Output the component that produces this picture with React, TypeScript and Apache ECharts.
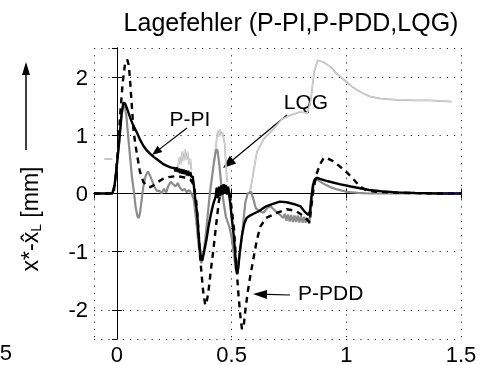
import React, { useEffect, useRef } from 'react';
import * as echarts from 'echarts';

const titleText = 'Lagefehler (P-PI,P-PDD,LQG)';
const xRange = [-0.1, 1.5];
const yRange = [-2.5, 2.5];

const pPI: any[] = [
  [-0.1, 0], [-0.02, 0], [-0.01, 0.15], [0, 0.5], [0.01, 0.9], [0.02, 1.35], [0.028, 1.56], [0.035, 1.55],
  [0.045, 1.45], [0.058, 1.3], [0.07, 1.18], [0.088, 1.04], [0.1, 0.93], [0.115, 0.82], [0.13, 0.74],
  [0.145, 0.68], [0.16, 0.63], [0.18, 0.57], [0.2, 0.51], [0.22, 0.47], [0.24, 0.44],
  [0.25, 0.44], [0.255, 0.38], [0.26, 0.45], [0.265, 0.37], [0.27, 0.43], [0.275, 0.35], [0.28, 0.42],
  [0.285, 0.34], [0.29, 0.41], [0.295, 0.33], [0.3, 0.4], [0.305, 0.31], [0.31, 0.39], [0.315, 0.3],
  [0.32, 0.37], [0.325, 0.28], [0.33, 0.3], [0.335, 0.15], [0.34, -0.05], [0.35, -0.35], [0.355, -0.65],
  [0.36, -0.9], [0.367, -1.12], [0.372, -1.15], [0.38, -1.0], [0.39, -0.8], [0.4, -0.55], [0.41, -0.35],
  [0.42, -0.18], [0.43, -0.06], [0.435, 0.1], [0.44, -0.08], [0.445, 0.12], [0.45, -0.05], [0.455, 0.14],
  [0.46, -0.02], [0.465, 0.16], [0.47, 0.0], [0.475, 0.15], [0.48, -0.02], [0.485, 0.12], [0.49, -0.05],
  [0.495, -0.2], [0.5, -0.4], [0.51, -0.75], [0.515, -1.0], [0.52, -1.3], [0.525, -1.38], [0.53, -1.25],
  [0.535, -1.02], [0.545, -0.72], [0.555, -0.52], [0.565, -0.42], [0.58, -0.38], [0.6, -0.34], [0.62, -0.3],
  [0.65, -0.22], [0.68, -0.18], [0.71, -0.14], [0.74, -0.15], [0.77, -0.18], [0.8, -0.22], [0.82, -0.32],
  [0.835, -0.37], [0.842, -0.3], [0.848, -0.05], [0.855, 0.15], [0.862, 0.24], [0.872, 0.27], [0.885, 0.25],
  [0.92, 0.21], [0.97, 0.16], [1.02, 0.12], [1.06, 0.09], [1.1, 0.06], [1.15, 0.04], [1.22, 0.02],
  [1.3, 0.01], [1.4, 0.0], [1.5, 0.0],
];

const pPDD: any[] = [
  [-0.1, 0], [-0.015, 0], [-0.005, 0.3], [0.005, 0.8], [0.015, 1.4], [0.025, 1.9], [0.035, 2.22], [0.045, 2.3],
  [0.052, 2.2], [0.058, 1.9], [0.065, 1.5], [0.072, 1.1], [0.08, 0.85], [0.088, 0.66], [0.1, 0.38],
  [0.115, 0.2], [0.13, 0.13], [0.145, 0.11], [0.16, 0.14], [0.175, 0.19], [0.2, 0.25], [0.22, 0.28],
  [0.26, 0.3], [0.29, 0.28], [0.32, 0.24], [0.335, 0.15], [0.345, -0.1], [0.355, -0.6], [0.365, -1.2],
  [0.375, -1.65], [0.385, -1.92], [0.392, -1.85], [0.4, -1.65], [0.41, -1.3], [0.42, -0.98], [0.435, -0.45],
  [0.445, -0.12], [0.455, 0.04], [0.465, 0.08], [0.48, 0.06], [0.49, 0.02], [0.5, -0.25], [0.51, -0.6],
  [0.52, -1.2], [0.53, -1.75], [0.538, -2.1], [0.545, -2.33], [0.552, -2.3], [0.56, -2.0], [0.57, -1.7],
  [0.58, -1.45], [0.595, -1.12], [0.61, -0.8], [0.625, -0.57], [0.65, -0.42], [0.7, -0.33], [0.74, -0.27],
  [0.78, -0.3], [0.81, -0.38], [0.83, -0.45], [0.84, -0.5], [0.848, -0.2], [0.858, 0.1], [0.87, 0.33],
  [0.885, 0.5], [0.9, 0.6], [0.91, 0.62], [0.94, 0.56], [0.97, 0.47], [1.0, 0.37], [1.03, 0.25],
  [1.06, 0.12], [1.09, 0.05], [1.13, 0.03], [1.25, 0.01], [1.4, 0], [1.5, 0],
];

const lqg: any[] = [
  [-0.1, 0], [-0.02, 0], [-0.01, 0.15], [0, 0.5], [0.01, 0.9], [0.02, 1.35], [0.028, 1.54], [0.035, 1.5],
  [0.042, 1.3], [0.05, 0.94], [0.058, 0.6], [0.065, 0.3], [0.075, 0.0], [0.082, -0.25], [0.09, -0.4],
  [0.095, -0.42], [0.1, -0.35], [0.108, -0.1], [0.115, 0.12], [0.125, 0.3], [0.135, 0.38], [0.145, 0.3],
  [0.155, 0.2], [0.165, 0.1], [0.175, 0.04], [0.185, 0.05], [0.195, 0.0], [0.205, 0.08], [0.215, 0.02],
  [0.225, 0.14], [0.235, 0.2], [0.245, 0.16], [0.255, 0.12], [0.265, 0.18], [0.275, 0.1], [0.285, 0.05],
  [0.295, 0.08], [0.305, 0.02], [0.315, 0.06], [0.325, 0.0], [0.335, -0.1], [0.345, -0.45], [0.355, -0.85],
  [0.362, -1.1], [0.368, -1.2], [0.375, -1.08], [0.385, -0.8], [0.395, -0.4], [0.405, 0.0], [0.415, 0.3],
  [0.425, 0.6], [0.432, 0.75], [0.438, 0.75], [0.445, 0.55], [0.455, 0.15], [0.465, -0.15], [0.475, -0.4],
  [0.49, -0.57], [0.5, -0.75], [0.51, -1.05], [0.518, -1.3], [0.525, -1.28], [0.535, -1.05], [0.545, -0.75],
  [0.553, -0.4], [0.56, -0.15], [0.57, 0.0], [0.585, 0.03], [0.595, -0.1], [0.605, -0.25], [0.62, -0.3],
  [0.64, -0.33], [0.655, -0.25], [0.67, -0.22], [0.685, -0.28], [0.7, -0.33], [0.715, -0.38], [0.725, -0.42],
  [0.732, -0.35], [0.739, -0.47], [0.746, -0.36], [0.753, -0.48], [0.76, -0.37], [0.767, -0.49], [0.774, -0.38],
  [0.781, -0.49], [0.788, -0.38], [0.795, -0.5], [0.802, -0.39], [0.809, -0.5], [0.816, -0.4], [0.823, -0.5],
  [0.83, -0.42], [0.838, -0.52], [0.845, -0.3], [0.852, 0.0], [0.86, 0.2], [0.868, 0.25], [0.88, 0.22],
  [0.9, 0.17], [0.93, 0.11], [0.96, 0.07], [1.0, 0.03], [1.05, 0.01], [1.1, 0], [1.5, 0],
];

const lightTrace: any[] = [
  [-0.055, 0.59], [-0.02, 0.59], [-0.01, '-'],
  [0.265, 0.4], [0.272, 0.62], [0.278, 0.5], [0.284, 0.72], [0.29, 0.55], [0.296, 0.76], [0.302, 0.58],
  [0.308, 0.72], [0.314, 0.5], [0.32, 0.6], [0.325, 0.4], [0.33, '-'],
  [0.425, 0.55], [0.435, 0.95], [0.44, 1.08], [0.445, 0.98], [0.45, 1.1], [0.455, 1.0], [0.46, 1.05],
  [0.47, 0.85], [0.475, 0.5], [0.48, 0.2], [0.5, '-'],
  [0.58, 0.02], [0.595, 0.36], [0.61, 0.71], [0.64, 0.94], [0.68, 1.1], [0.72, 1.28], [0.76, 1.35],
  [0.8, 1.4], [0.83, 1.38], [0.845, 1.6], [0.86, 2.1], [0.875, 2.29], [0.9, 2.26], [0.93, 2.18],
  [0.96, 2.05], [1.0, 1.92], [1.03, 1.82], [1.06, 1.75], [1.1, 1.67], [1.15, 1.63], [1.22, 1.61],
  [1.3, 1.6], [1.36, 1.6], [1.46, 1.58],
];

const blueTail: any[] = [[1.42, 0], [1.5, 0]];

const FONT = '"Liberation Sans", Arial, Helvetica, sans-serif';

function arrow(x1: number, y1: number, x2: number, y2: number, len: number, hw: number, w = 1.2) {
  const dx = x2 - x1, dy = y2 - y1;
  const L = Math.sqrt(dx * dx + dy * dy);
  const ux = dx / L, uy = dy / L;
  const bx = x2 - ux * len, by = y2 - uy * len;
  const nx = -uy, ny = ux;
  return [
    { type: 'line', shape: { x1, y1, x2: bx, y2: by }, style: { stroke: '#000', lineWidth: w }, silent: true },
    {
      type: 'polygon',
      shape: { points: [[x2, y2], [bx + nx * hw, by + ny * hw], [bx - nx * hw, by - ny * hw]] },
      style: { fill: '#000' },
      silent: true,
    },
  ];
}

export default function App() {
  const ref = useRef<HTMLDivElement>(null);
  useEffect(() => {
    if (!ref.current) return;
    const chart = echarts.init(ref.current, null, { renderer: 'svg' });
    const grid = { left: 94, right: 22, top: 48, bottom: 26, show: false };
    const axisCommon = {
      axisLine: { show: true, lineStyle: { color: '#000', width: 1 } },
      axisTick: { show: true, inside: true, length: 5, lineStyle: { color: '#000' } },
    };
    const splitDot = { show: true, lineStyle: { color: '#222', width: 1, type: [1.2, 6] } };
    const option: any = {
      animation: false,
      textStyle: { fontFamily: FONT },
      grid,
      xAxis: [
        {
          type: 'value', min: xRange[0], max: xRange[1], splitNumber: 3, position: 'bottom',
          ...axisCommon,
          axisLabel: { show: true, color: '#000', fontSize: 22, fontFamily: FONT, margin: 4, showMinLabel: false },
          splitLine: splitDot,
        },
        {
          type: 'value', min: xRange[0], max: xRange[1], splitNumber: 3, position: 'top',
          ...axisCommon, axisLabel: { show: false }, splitLine: { show: false },
        },
      ],
      yAxis: [
        {
          type: 'value', min: yRange[0], max: yRange[1], splitNumber: 5, position: 'left',
          ...axisCommon,
          axisLabel: {
            show: true, color: '#000', fontSize: 22, fontFamily: FONT, margin: 6,
            showMinLabel: false, showMaxLabel: false,
          },
          splitLine: splitDot,
        },
        {
          type: 'value', min: yRange[0], max: yRange[1], splitNumber: 5, position: 'right',
          ...axisCommon, axisLabel: { show: false }, splitLine: { show: false },
        },
      ],
      series: [
        {
          name: 'trace-outer', type: 'line', data: lightTrace, showSymbol: false, symbol: 'none', connectNulls: false,
          lineStyle: { color: '#ababab', width: 1.7 }, z: 1,
        },
        {
          name: 'trace-inner', type: 'line', data: lightTrace, showSymbol: false, symbol: 'none', connectNulls: false,
          lineStyle: { color: '#f2f2f2', width: 0.6 }, z: 2,
        },
        {
          name: 'LQG', type: 'line', data: lqg, showSymbol: false, symbol: 'none',
          lineStyle: { color: '#8c8c8c', width: 2.2 }, z: 3,
        },
        {
          name: 'P-PDD', type: 'line', data: pPDD, showSymbol: false, symbol: 'none',
          lineStyle: { color: '#000', width: 2.4, type: [6, 5] }, z: 4,
        },
        {
          name: 'P-PI', type: 'line', data: pPI, showSymbol: false, symbol: 'none',
          lineStyle: { color: '#000', width: 2.4 }, z: 5,
        },
        {
          name: 'tail', type: 'line', data: blueTail, showSymbol: false, symbol: 'none',
          lineStyle: { color: '#0000a8', width: 1.6 }, z: 6,
        },
      ],
      graphic: [
        {
          type: 'text', x: 291, y: 22, silent: true,
          style: { text: titleText, fontSize: 25, fontFamily: FONT, fill: '#000', align: 'center', verticalAlign: 'middle' },
        },
        {
          type: 'text', x: 30, y: 219, rotation: Math.PI / 2, silent: true,
          style: {
            text: '{n|x*-x\u0302}{s|L}{n| [mm]}',
            align: 'center', verticalAlign: 'middle', fill: '#000',
            rich: {
              n: { fontSize: 23, fontFamily: FONT, fill: '#000' },
              s: { fontSize: 14, fontFamily: FONT, fill: '#000', padding: [12, 0, 0, 0] },
            },
          },
        },
        ...arrow(26, 150, 26, 62, 13, 4, 1.5),
        {
          type: 'text', x: 12, y: 352, silent: true,
          style: { text: '5', fontSize: 22, fontFamily: FONT, fill: '#000', align: 'right', verticalAlign: 'middle' },
        },
        {
          type: 'text', x: 190, y: 118, silent: true,
          style: { text: 'P-PI', fontSize: 21, fontFamily: FONT, fill: '#000', align: 'center', verticalAlign: 'middle' },
        },
        ...arrow(187, 128, 152, 155, 10, 4),
        {
          type: 'text', x: 306, y: 101, silent: true,
          style: { text: 'LQG', fontSize: 21, fontFamily: FONT, fill: '#000', align: 'center', verticalAlign: 'middle' },
        },
        ...arrow(287, 115, 223, 168, 13, 5),
        {
          type: 'text', x: 288, y: 292, silent: true, z: 10,
          style: {
            text: 'P-PDD', fontSize: 21, fontFamily: FONT, fill: '#000', align: 'left', verticalAlign: 'middle',
            backgroundColor: '#fff', padding: [2, 12, 10, 10],
          },
        },
        ...arrow(290, 295, 253, 294, 14, 4.5).map((e: any) => ({ ...e, z: 11 })),
      ],
    };
    chart.setOption(option);
    return () => chart.dispose();
  }, []);
  return <div ref={ref} style={{ position: 'fixed', left: 0, top: 0, width: 483, height: 365 }} />;
}
